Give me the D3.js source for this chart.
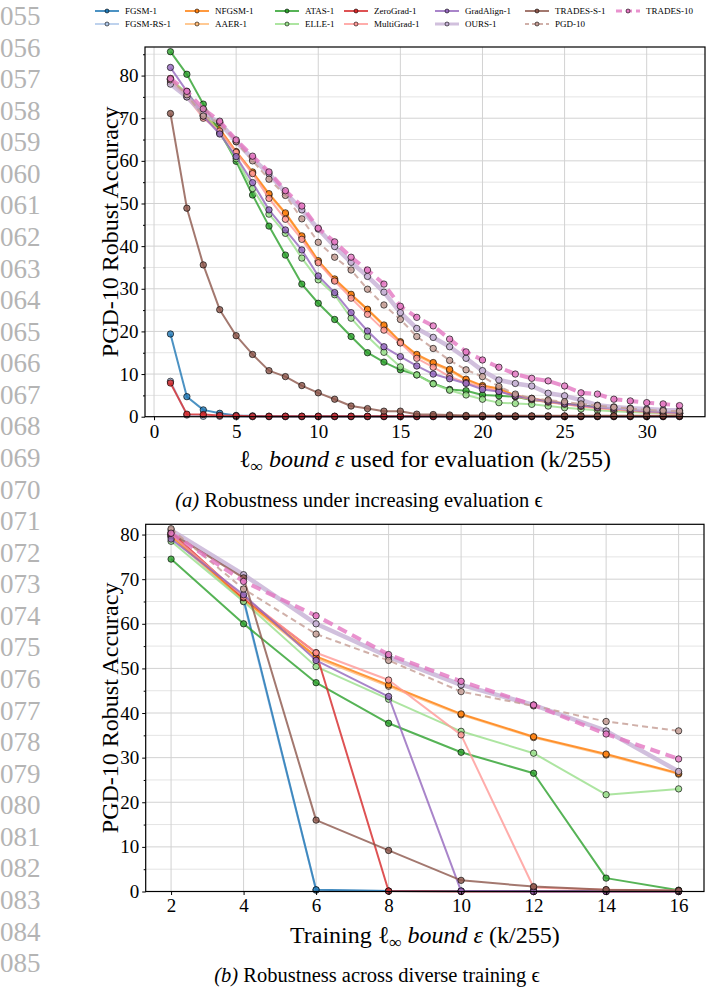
<!DOCTYPE html>
<html>
<head>
<meta charset="utf-8">
<script src="https://cdn.jsdelivr.net/npm/d3@7"></script>
<style>
  body { margin: 0; background: #fff; }
  svg text { font-family: "Liberation Serif", "Times New Roman", serif; fill: #000; }
</style>
</head>
<body>
<svg id="fig" width="707" height="989"></svg>
<script>
// ---- data ----
const evalEps = [1, 2, 3, 4, 5, 6, 7, 8, 9, 10, 11, 12, 13, 14, 15, 16,
                 17, 18, 19, 20, 21, 22, 23, 24, 25, 26, 27, 28, 29, 30, 31, 32];
const trainEps = [2, 4, 6, 8, 10, 12, 14, 16];
const evalTicks = [0, 5, 10, 15, 20, 25, 30];
const accTicks = [0, 10, 20, 30, 40, 50, 60, 70, 80];
const lineNumbers = ['055', '056', '057', '058', '059', '060', '061', '062', '063', '064', '065',
                     '066', '067', '068', '069', '070', '071', '072', '073', '074', '075', '076',
                     '077', '078', '079', '080', '081', '082', '083', '084', '085'];

// (a) PGD-10 accuracy vs evaluation epsilon
const evalFGSM = [19.4, 4.7, 1.6, 0.8, 0.3, 0.2, 0.1, 0.1, 0.1, 0.1, 0.1, 0.1, 0.1, 0.1, 0.1, 0.1,
                  0.1, 0.1, 0.1, 0.1, 0.1, 0.1, 0.1, 0.1, 0.1, 0.1, 0.1, 0.1, 0.1, 0.1, 0.1, 0.1];
const evalFGSMRS = [8.3, 0.4, 0.1, 0.1, 0.0, 0.0, 0.0, 0.0, 0.0, 0.0, 0.0, 0.0, 0.0, 0.0, 0.0, 0.0,
                    0.0, 0.0, 0.0, 0.0, 0.0, 0.0, 0.0, 0.0, 0.0, 0.0, 0.0, 0.0, 0.0, 0.0, 0.0, 0.0];
const evalNFGSM = [79.3, 75.5, 70.8, 67.5, 62.2, 57.4, 52.3, 47.8, 42.4, 36.6, 32.3, 28.7, 25.2, 21.5, 17.6, 14.6,
                   12.7, 11.1, 8.8, 7.3, 6.6, 5.0, 4.3, 3.7, 3.1, 2.6, 2.2, 1.8, 1.5, 1.2, 1.0, 0.8];
const evalAAER = [79.0, 75.3, 70.6, 67.2, 62.0, 57.2, 52.0, 47.5, 42.1, 36.4, 32.0, 28.4, 25.0, 21.2, 17.4, 14.3,
                  12.4, 10.8, 8.6, 7.1, 6.4, 4.8, 4.1, 3.5, 3.0, 2.5, 2.1, 1.7, 1.4, 1.1, 0.9, 0.7];
const evalATAS = [85.6, 80.3, 73.3, 66.8, 59.9, 52.0, 44.7, 37.9, 31.1, 26.6, 22.8, 18.8, 15.0, 12.8, 11.0, 9.8,
                  7.8, 6.4, 6.1, 5.1, 4.9, 4.7, 3.9, 3.5, 3.0, 2.7, 2.2, 1.9, 1.6, 1.3, 1.1, 0.9];
const evalELLE = [79.0, 76.0, 71.5, 66.5, 60.5, 53.5, 47.5, 43.0, 37.2, 32.1, 28.6, 23.1, 18.8, 15.1, 11.7, 9.8,
                  7.7, 6.2, 5.1, 4.1, 3.3, 3.1, 2.9, 2.5, 2.1, 1.8, 1.5, 1.3, 1.1, 0.9, 0.8, 0.7];
const evalZeroGrad = [7.9, 0.6, 0.5, 0.3, 0.2, 0.1, 0.1, 0.1, 0.1, 0.1, 0.1, 0.1, 0.1, 0.1, 0.1, 0.1,
                      0.1, 0.1, 0.1, 0.1, 0.1, 0.1, 0.1, 0.1, 0.1, 0.1, 0.1, 0.1, 0.1, 0.1, 0.1, 0.1];
const evalMultiGrad = [78.5, 75.0, 70.0, 67.0, 62.0, 57.0, 51.2, 46.3, 41.6, 36.1, 31.8, 27.8, 24.0, 20.3, 17.3, 13.7,
                       11.6, 9.4, 8.0, 6.9, 6.0, 4.8, 4.0, 3.4, 2.9, 2.4, 2.0, 1.7, 1.4, 1.1, 0.9, 0.7];
const evalGradAlign = [81.9, 76.3, 70.5, 66.3, 61.0, 54.9, 48.5, 43.8, 39.1, 33.0, 29.1, 24.4, 20.1, 16.4, 14.1, 11.9,
                       10.0, 8.9, 7.8, 6.4, 5.9, 4.9, 4.2, 3.6, 3.1, 2.6, 2.2, 1.9, 1.6, 1.3, 1.1, 0.9];
const evalOURS = [78.0, 75.0, 71.0, 69.0, 64.5, 60.5, 57.0, 52.5, 48.5, 44.0, 39.9, 36.2, 32.9, 29.2, 24.4, 20.7,
                  18.6, 16.4, 13.7, 10.8, 8.6, 7.8, 7.2, 5.5, 4.9, 3.9, 2.7, 2.3, 2.0, 1.8, 1.6, 1.5];
const evalTRADESS = [71.1, 48.9, 35.6, 25.1, 19.0, 14.6, 10.8, 9.4, 7.3, 5.6, 4.1, 2.5, 1.9, 1.3, 1.3, 0.6,
                     0.5, 0.4, 0.3, 0.3, 0.2, 0.2, 0.2, 0.2, 0.2, 0.2, 0.2, 0.2, 0.2, 0.2, 0.2, 0.2];
const evalPGD10 = [79.0, 75.5, 70.5, 69.0, 64.5, 60.0, 55.7, 51.9, 46.4, 40.9, 37.4, 34.4, 29.9, 26.2, 22.8, 18.8,
                   16.0, 13.2, 11.0, 9.4, 7.1, 5.3, 4.3, 3.9, 3.5, 3.0, 2.6, 2.2, 1.9, 1.6, 1.4, 1.3];
const evalTRADES10 = [79.3, 76.3, 72.2, 69.3, 64.9, 61.1, 57.4, 53.0, 49.4, 44.2, 41.0, 37.4, 34.4, 31.1, 25.9, 23.3,
                      21.3, 18.2, 15.2, 13.3, 11.6, 10.0, 9.0, 8.4, 7.2, 5.6, 5.3, 4.1, 3.7, 3.3, 3.0, 2.6];

// (b) PGD-10 accuracy vs training epsilon
const trainFGSM = [80.0, 65.5, 0.4, 0.1, 0.1, 0.1, 0.1, 0.1];
const trainFGSMRS = [79.5, 65.0, 0.3, 0.1, 0.0, 0.0, 0.0, 0.0];
const trainNFGSM = [79.8, 65.5, 52.7, 46.3, 39.8, 34.7, 30.8, 26.5];
const trainAAER = [79.5, 65.2, 52.3, 46.0, 39.6, 34.5, 30.6, 26.3];
const trainATAS = [74.5, 60.0, 46.8, 37.7, 31.2, 26.5, 3.0, 0.3];
const trainELLE = [78.5, 65.0, 50.4, 43.1, 35.9, 31.0, 21.7, 23.0];
const trainZeroGrad = [80.5, 65.8, 53.5, 0.1, 0.0, 0.0, 0.0, 0.0];
const trainMultiGrad = [80.0, 66.0, 53.5, 47.4, 35.1, 0.9, 0.4, 0.2];
const trainGradAlign = [79.0, 66.5, 51.8, 43.7, 0.1, 0.0, 0.0, 0.0];
const trainOURS = [81.0, 71.0, 60.0, 52.6, 46.3, 41.8, 36.0, 26.9];
const trainTRADESS = [80.3, 70.3, 16.0, 9.2, 2.5, 1.1, 0.4, 0.2];
const trainPGD10 = [81.3, 67.8, 57.7, 51.8, 44.8, 41.6, 38.1, 36.0];
const trainTRADES10 = [80.3, 69.5, 61.8, 53.1, 47.1, 41.8, 35.3, 29.7];

// series table, in legend order; z gives drawing order
const methods = [
  { name: 'FGSM-1',      color: '#1f77b4', evalVals: evalFGSM,      trainVals: trainFGSM,      width: 2,   z: 1 },
  { name: 'FGSM-RS-1',   color: '#aec7e8', evalVals: evalFGSMRS,    trainVals: trainFGSMRS,    width: 2,   z: 0 },
  { name: 'NFGSM-1',     color: '#ff7f0e', evalVals: evalNFGSM,     trainVals: trainNFGSM,     width: 2,   z: 3 },
  { name: 'AAER-1',      color: '#ffbb78', evalVals: evalAAER,      trainVals: trainAAER,      width: 2,   z: 2 },
  { name: 'ATAS-1',      color: '#2ca02c', evalVals: evalATAS,      trainVals: trainATAS,      width: 2,   z: 4 },
  { name: 'ELLE-1',      color: '#98df8a', evalVals: evalELLE,      trainVals: trainELLE,      width: 2,   z: 5 },
  { name: 'ZeroGrad-1',  color: '#d62728', evalVals: evalZeroGrad,  trainVals: trainZeroGrad,  width: 2,   z: 6 },
  { name: 'MultiGrad-1', color: '#ff9896', evalVals: evalMultiGrad, trainVals: trainMultiGrad, width: 2,   z: 7 },
  { name: 'GradAlign-1', color: '#9467bd', evalVals: evalGradAlign, trainVals: trainGradAlign, width: 2,   z: 8 },
  { name: 'OURS-1',      color: '#c5b0d5', evalVals: evalOURS,      trainVals: trainOURS,      width: 4.5, z: 9 },
  { name: 'TRADES-S-1',  color: '#8c564b', evalVals: evalTRADESS,   trainVals: trainTRADESS,   width: 2,   z: 10 },
  { name: 'PGD-10',      color: '#c49c94', evalVals: evalPGD10,     trainVals: trainPGD10,     width: 2,   z: 11, dash: '6,4' },
  { name: 'TRADES-10',   color: '#e377c2', evalVals: evalTRADES10,  trainVals: trainTRADES10,  width: 4,   z: 12, dash: '10,6' }
];

const svg = d3.select('#fig');
const ALPHA = 0.8;

// line numbers in the margin
svg.append('g').selectAll('text')
  .data(lineNumbers)
  .join('text')
    .attr('x', 0)
    .attr('y', (d, i) => 25 + i * 31.57)
    .style('font-size', '27px')
    .style('fill', '#b4b4b4')
    .text(d => d);

function richText(sel, parts) {
  parts.forEach(p => {
    const t = sel.append('tspan').text(p.t);
    if (p.italic) t.style('font-style', 'italic');
    if (p.sub) t.attr('dy', 5).style('font-size', '0.72em');
    if (p.unsub) t.attr('dy', -5);
  });
}

function drawPanel(opts) {
  const { x, y, xs, key, xTicks, xLabel, caption, captionX, labelY, captionY } = opts;
  const g = svg.append('g');
  const [x0, x1] = x.range();
  const [y0, y1] = y.range();

  // grid: horizontal every 5, vertical at major x ticks
  const hGrid = d3.range(5, y.domain()[1], 5);
  g.append('g').selectAll('line').data(hGrid).join('line')
    .attr('x1', x0).attr('x2', x1)
    .attr('y1', d => y(d)).attr('y2', d => y(d))
    .attr('stroke', d => d % 10 === 0 ? '#d2d2d2' : '#e4e4e4')
    .attr('stroke-width', 1);
  g.append('g').selectAll('line').data(xTicks).join('line')
    .attr('x1', d => x(d)).attr('x2', d => x(d))
    .attr('y1', y0).attr('y2', y1)
    .attr('stroke', '#d2d2d2')
    .attr('stroke-width', 1);

  // series
  const line = d3.line().x((d, i) => x(xs[i])).y(d => y(d));
  methods.slice().sort((a, b) => a.z - b.z).forEach(m => {
    const vals = m[key];
    g.append('path')
      .datum(vals)
      .attr('d', line)
      .attr('fill', 'none')
      .attr('stroke', m.color)
      .attr('stroke-opacity', ALPHA)
      .attr('stroke-width', m.width)
      .attr('stroke-dasharray', m.dash || null)
      .attr('stroke-linejoin', 'round');
    g.append('g').selectAll('circle')
      .data(vals)
      .join('circle')
        .attr('cx', (d, i) => x(xs[i]))
        .attr('cy', d => y(d))
        .attr('r', 3.2)
        .attr('fill', m.color)
        .attr('fill-opacity', ALPHA)
        .attr('stroke', '#000')
        .attr('stroke-opacity', ALPHA)
        .attr('stroke-width', 0.8);
  });

  // axes
  const xAxis = g.append('g')
    .attr('transform', `translate(0,${y0})`)
    .call(d3.axisBottom(x).tickValues(xTicks).tickSize(3.5).tickPadding(4));
  const yAxis = g.append('g')
    .attr('transform', `translate(${x0},0)`)
    .call(d3.axisLeft(y).tickValues(accTicks).tickSize(3.5).tickPadding(3));
  g.append('g')
    .attr('transform', `translate(${x0},0)`)
    .call(d3.axisLeft(y).tickValues(d3.range(5, y.domain()[1], 10)).tickSize(2).tickFormat(''))
    .call(a => a.select('.domain').remove());
  [xAxis, yAxis].forEach(a => {
    a.select('.domain').remove();
    a.selectAll('text').style('font-size', '19px').style('font-family', '"Liberation Serif", serif');
    a.selectAll('line').attr('stroke', '#000');
  });

  // frame
  g.append('rect')
    .attr('x', x0).attr('y', y1)
    .attr('width', x1 - x0).attr('height', y0 - y1)
    .attr('fill', 'none')
    .attr('stroke', '#000')
    .attr('stroke-width', 1.2);

  // labels
  g.append('text')
    .attr('transform', `translate(118,${(y0 + y1) / 2}) rotate(-90)`)
    .attr('text-anchor', 'middle')
    .style('font-size', '24px')
    .text('PGD-10 Robust Accuracy');

  const xl = g.append('text')
    .attr('x', (x0 + x1) / 2)
    .attr('y', labelY)
    .attr('text-anchor', 'middle')
    .style('font-size', '24px');
  richText(xl, xLabel);

  const cap = g.append('text')
    .attr('x', captionX)
    .attr('y', captionY)
    .attr('text-anchor', 'middle')
    .style('font-size', '20.5px');
  richText(cap, caption);
}

// (a)
drawPanel({
  x: d3.scaleLinear().domain([-0.55, 33.55]).range([145, 705]),
  y: d3.scaleLinear().domain([0, 86.7]).range([416.7, 47]),
  xs: evalEps,
  key: 'evalVals',
  xTicks: evalTicks,
  xLabel: [{ t: 'ℓ' }, { t: '∞', sub: true }, { t: ' bound ε', italic: true, unsub: true }, { t: ' used for evaluation (k/255)' }],
  caption: [{ t: '(a)', italic: true }, { t: ' Robustness under increasing evaluation ϵ' }],
  captionX: 359,
  labelY: 467,
  captionY: 507
});

// (b)
drawPanel({
  x: d3.scaleLinear().domain([1.3, 16.7]).range([145.7, 704]),
  y: d3.scaleLinear().domain([0, 82.3]).range([891.5, 524.3]),
  xs: trainEps,
  key: 'trainVals',
  xTicks: trainEps,
  xLabel: [{ t: 'Training ' }, { t: 'ℓ' }, { t: '∞', sub: true }, { t: ' bound ε', italic: true, unsub: true }, { t: ' (k/255)' }],
  caption: [{ t: '(b)', italic: true }, { t: ' Robustness across diverse training ϵ' }],
  captionX: 377,
  labelY: 943,
  captionY: 982
});

// legend: 7 columns, 2 rows, filled column-first
const legendCols = [95, 185, 275, 344, 435, 525, 616];
const legendRows = [11, 24];
const legend = svg.append('g');
methods.forEach((m, i) => {
  const lx = legendCols[Math.floor(i / 2)];
  const ly = legendRows[i % 2];
  const item = legend.append('g').attr('transform', `translate(${lx},${ly})`);
  item.append('line')
    .attr('x1', 0).attr('x2', 24)
    .attr('stroke', m.color)
    .attr('stroke-opacity', ALPHA)
    .attr('stroke-width', Math.min(m.width, 3))
    .attr('stroke-dasharray', m.dash ? (m.name === 'PGD-10' ? '4,3' : '6,4') : null);
  item.append('circle')
    .attr('cx', 12).attr('r', 2)
    .attr('fill', m.color)
    .attr('stroke', '#000')
    .attr('stroke-width', 0.6);
  item.append('text')
    .attr('x', 30).attr('y', 3)
    .style('font-size', '9px')
    .text(m.name);
});
</script>
</body>
</html>
